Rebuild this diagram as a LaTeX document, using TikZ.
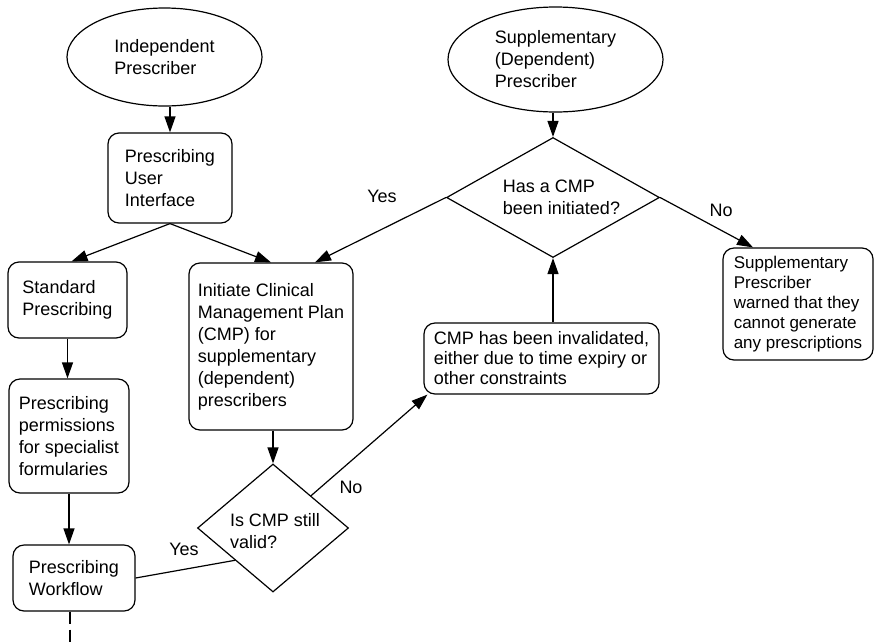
\documentclass[tikz,border=0pt]{standalone}
\usepackage{fontspec}
\setmainfont{Liberation Sans}
\usetikzlibrary{shapes.geometric,arrows.meta,calc}
\begin{document}
\begin{tikzpicture}[x=1pt,y=-1pt,
  every node/.style={font=\fontsize{18}{22}\selectfont},
  flow/.style={line width=1.2pt},
  arr/.style={flow,-{Triangle[length=16pt,width=11pt]}},
  box/.style={draw,line width=1.2pt,rounded corners=11pt,align=left,inner sep=0pt},
  oval/.style={draw,ellipse,line width=1.2pt,align=left,inner sep=0pt},
  dia/.style={draw,diamond,line width=1.2pt,inner sep=0pt},
  lbl/.style={inner sep=0pt}]
\useasboundingbox (0,0) rectangle (874,643);

% prescribers
\node[oval,minimum width=195pt,minimum height=98pt] (e1) at (164.5,57) {Independent\\Prescriber};
\node[oval,minimum width=215pt,minimum height=105pt] (e2) at (555.5,59.5) {Supplementary\\(Dependent)\\Prescriber};

% process boxes
\node[box,minimum width=124pt,minimum height=90pt] (pui) at (170,178) {Prescribing\\User\\Interface};
\node[box,minimum width=119pt,minimum height=76pt] (std) at (67.5,300) {Standard\\Prescribing};
\node[box,minimum width=164pt,minimum height=167pt] (ini) at (271,346.5) {Initiate Clinical\\Management Plan\\(CMP) for\\supplementary\\(dependent)\\prescribers};
\node[box,minimum width=235pt,minimum height=71pt,font=\fontsize{18}{20}\selectfont] (inv) at (541.5,358.5) {CMP has been invalidated,\\either due to time expiry or\\other constraints};
\node[box,minimum width=150pt,minimum height=112pt,font=\fontsize{17}{20}\selectfont] (warn) at (798,304) {Supplementary\\Prescriber\\warned that they\\cannot generate\\any prescriptions};
\node[box,minimum width=120pt,minimum height=114pt] (perm) at (69,436) {Prescribing\\permissions\\for specialist\\formularies};
\node[box,minimum width=122pt,minimum height=66pt] (wf) at (74,578) {Prescribing\\Workflow};
\coordinate (tail) at (70,643);

% decisions
\node[dia,minimum width=213pt,minimum height=120pt] (d1) at (553,197.5) {};
\node[lbl,align=left] (d1t) at (561.5,197) {Has a CMP\\been initiated?};
\node[dia,minimum width=151pt,minimum height=128pt] (d2) at (273,528) {};
\node[lbl,align=left] (d2t) at (275,531) {Is CMP still\\valid?};

% branch labels
\node[lbl] (yes1) at (382,196) {Yes};
\node[lbl] (no1) at (721,210) {No};
\node[lbl] (no2) at (351,487) {No};
\node[lbl] (yes2) at (184,549) {Yes};

% connectors
\draw[arr] (e1.south -| pui.north) -- (pui.north);
\draw[arr] (e2.south -| d1.north) -- (d1.north);
\draw[arr] (pui.south) -- ($(std.north)+(4,0)$);
\draw[arr] (pui.south) -- (ini.north);
\draw[arr] (d1.west) -- ($(ini.north)+(44,0)$);
\draw[arr] (d1.east) -- ($(warn.north)+(-45,0)$);
\draw[arr] (d1.south |- inv.north) -- (d1.south);
\draw[arr] (ini.south -| d2.north) -- (d2.north);
\draw[arr] (d2.north east) -- ($(inv.south west)+(4,0)$);
\draw[flow] (d2.south west) -- (wf.east);
\draw[arr] (std.south) -- (std.south |- perm.north);
\draw[arr] (perm.south) -- (perm.south |- wf.north);
\draw[flow,dash pattern=on 12pt off 6pt] (tail |- wf.south) -- (tail);
\end{tikzpicture}
\end{document}
